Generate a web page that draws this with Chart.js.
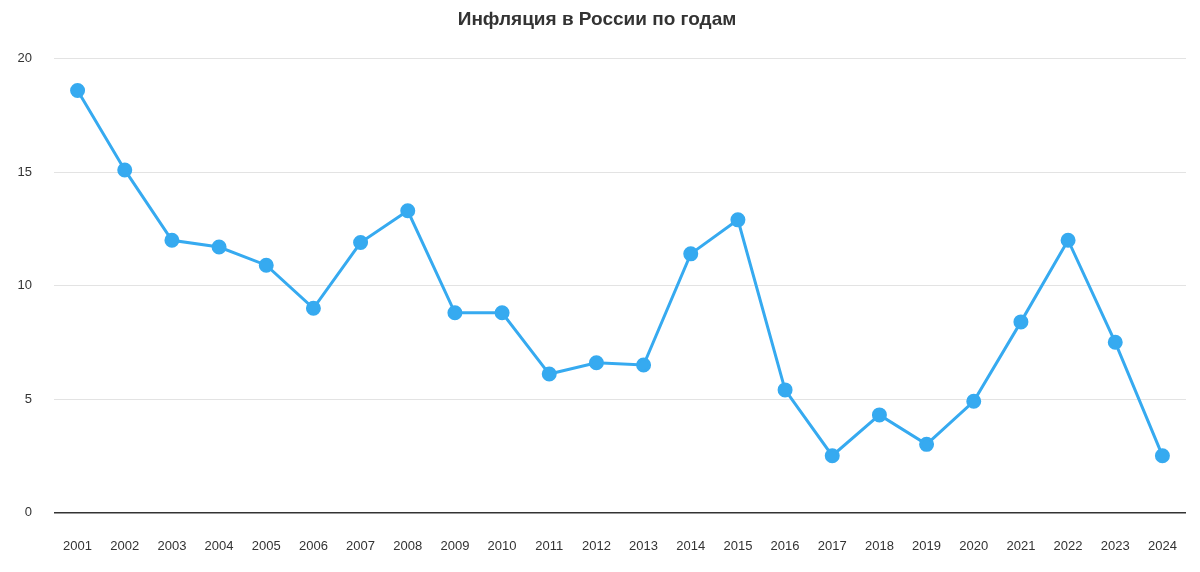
<!DOCTYPE html>
<html lang="ru">
<head>
<meta charset="UTF-8">
<title>Инфляция в России по годам</title>
<script src="https://cdn.jsdelivr.net/npm/chart.js"></script>
<style>
  body { margin: 0; background: #fff; }
  #wrap { width: 1200px; height: 572px; }
</style>
</head>
<body>
<div id="wrap"><canvas id="chart"></canvas></div>
<script>
  const years = ['2001','2002','2003','2004','2005','2006','2007','2008','2009','2010','2011','2012',
                 '2013','2014','2015','2016','2017','2018','2019','2020','2021','2022','2023','2024'];
  const inflation = [18.6, 15.1, 12.0, 11.7, 10.9, 9.0, 11.9, 13.3, 8.8, 8.8, 6.1, 6.6,
                     6.5, 11.4, 12.9, 5.4, 2.5, 4.3, 3.0, 4.9, 8.4, 12.0, 7.5, 2.5];
  const yTicks = [0, 5, 10, 15, 20];

  new Chart(document.getElementById('chart'), {
    type: 'line',
    data: {
      labels: years,
      datasets: [{
        data: inflation,
        borderColor: '#36aaf0',
        backgroundColor: '#36aaf0',
        borderWidth: 3,
        pointRadius: 6,
        pointHoverRadius: 6,
        tension: 0
      }]
    },
    options: {
      responsive: true,
      maintainAspectRatio: false,
      animation: false,
      layout: { padding: { left: 8, right: 14, top: 4, bottom: 0 } },
      plugins: {
        legend: { display: false },
        tooltip: { enabled: false },
        title: {
          display: true,
          text: 'Инфляция в России по годам',
          color: '#333',
          font: { family: 'Liberation Sans', size: 19, weight: 'bold' },
          padding: { top: 4, bottom: 28 }
        }
      },
      scales: {
        x: {
          offset: true,
          grid: { display: false },
          border: { display: false },
          ticks: { color: '#333', font: { family: 'Liberation Sans', size: 13 }, maxRotation: 0, padding: 18 }
        },
        y: {
          min: 0, max: 20,
          afterBuildTicks: s => { s.ticks = yTicks.map(v => ({ value: v })); },
          afterFit: s => { s.width = 46; },
          border: { display: false },
          grid: {
            color: c => c.tick.value === 0 ? '#333' : '#e3e3e3',
            lineWidth: c => c.tick.value === 0 ? 1.5 : 1,
            drawTicks: false
          },
          ticks: { color: '#333', font: { family: 'Liberation Sans', size: 13 }, padding: 22 }
        }
      }
    }
  });
</script>
</body>
</html>
